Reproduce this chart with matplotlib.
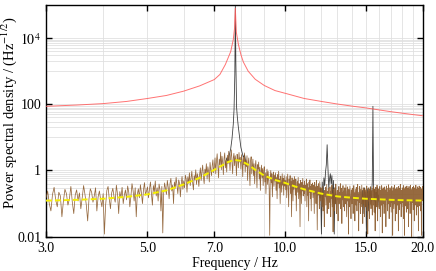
import numpy as np
import matplotlib
matplotlib.use('Agg')
import matplotlib.pyplot as plt
from matplotlib.ticker import FixedLocator, FixedFormatter, NullFormatter

plt.rcParams['font.family'] = 'serif'
plt.rcParams['font.serif'] = ['Liberation Serif', 'DejaVu Serif']
plt.rcParams['mathtext.fontset'] = 'stix'

# smooth resonance curve (red)
red_freq = [3.0, 3.5, 4.0, 4.5, 5.0, 5.5, 6.0, 6.5, 7.0, 7.2, 7.4, 7.5, 7.6, 7.7,
            7.75, 7.78, 7.82, 7.9, 8.0, 8.1, 8.3, 8.6, 9.0, 9.5, 10.0, 11.0, 12.0,
            13.0, 14.0, 15.0, 16.0, 17.0, 18.0, 19.0, 20.0]
red_psd = [87, 95, 105, 122, 150, 185, 250, 360, 560, 800, 1600, 2500, 3900, 9000,
           20000, 80000, 15000, 6500, 3200, 1900, 1000, 570, 370, 260, 215, 150, 122,
           102, 88, 78, 68, 60, 54, 49, 45]

# smooth fit (yellow, dashed)
fit_freq = [3.0, 3.5, 4.0, 4.5, 5.0, 5.5, 6.0, 6.5, 7.0, 7.3, 7.5, 7.75, 8.0, 8.3,
            8.6, 9.0, 9.5, 10.0, 10.5, 11.0, 12.0, 13.0, 14.0, 15.0, 16.0, 17.0,
            18.0, 19.0, 20.0]
fit_psd = [0.123, 0.13, 0.14, 0.16, 0.19, 0.25, 0.38, 0.6, 1.05, 1.45, 1.8, 2.1, 1.95,
           1.5, 1.05, 0.7, 0.52, 0.42, 0.33, 0.27, 0.2, 0.165, 0.15, 0.14, 0.135, 0.13,
           0.127, 0.125, 0.123]

# measured spectrum (brown), one value every 0.025 Hz from 3.000 to 20.000
spec_freq = np.round(np.arange(3.0, 20.0001, 0.025), 3)
spec_psd = [
    # 3.0 - 4.975
    0.15, 0.24, 0.10, 0.06, 0.19, 0.31, 0.13, 0.08, 0.22, 0.17, 0.04, 0.12, 0.27, 0.20, 0.09, 0.14, 0.33, 0.11, 0.05, 0.18,
    0.26, 0.12, 0.21, 0.07, 0.15, 0.35, 0.19, 0.09, 0.03, 0.14, 0.28, 0.22, 0.11, 0.17, 0.30, 0.06, 0.16, 0.24, 0.13, 0.08,
    0.20, 0.012, 0.09, 0.25, 0.33, 0.14, 0.07, 0.21, 0.29, 0.16, 0.11, 0.36, 0.19, 0.05, 0.23, 0.15, 0.31, 0.10, 0.18, 0.26,
    0.13, 0.34, 0.22, 0.08, 0.17, 0.40, 0.25, 0.12, 0.30, 0.04, 0.19, 0.28, 0.15, 0.37, 0.21, 0.10, 0.26, 0.43, 0.18, 0.24,
    # 5.0 - 6.975
    0.32, 0.15, 0.27, 0.45, 0.20, 0.09, 0.35, 0.23, 0.48, 0.17, 0.30, 0.12, 0.39, 0.26, 0.06, 0.33, 0.013, 0.21, 0.42, 0.28,
    0.19, 0.50, 0.31, 0.14, 0.40, 0.58, 0.24, 0.36, 0.10, 0.45, 0.29, 0.62, 0.35, 0.20, 0.52, 0.41, 0.16, 0.38, 0.66, 0.27,
    0.48, 0.30, 0.72, 0.55, 0.22, 0.64, 0.41, 0.85, 0.35, 0.58, 0.95, 0.44, 0.26, 0.70, 0.52, 1.05, 0.38, 0.80, 0.60, 0.33,
    0.75, 1.20, 0.50, 0.92, 1.45, 0.65, 0.40, 1.10, 0.82, 1.60, 0.55, 1.30, 0.95, 0.45, 1.75, 1.05, 0.70, 1.40, 2.10, 0.85,
    # 7.0 - 8.975
    1.25, 2.40, 0.80, 1.90, 3.20, 1.35, 0.60, 2.20, 1.50, 3.60, 1.05, 2.70, 1.80, 0.75, 2.30, 3.40, 1.20, 2.00, 0.90, 2.90,
    1.60, 3.80, 2.20, 1.00, 2.60, 4.20, 1.70, 0.80, 2.40, 3.30, 1.40, 2.80, 1.90, 0.70, 3.10, 2.30, 1.20, 3.50, 1.80, 2.50,
    1.10, 3.00, 2.00, 0.65, 2.50, 1.50, 3.40, 0.90, 2.10, 1.30, 2.80, 0.50, 1.70, 2.40, 1.00, 0.35, 1.90, 2.60, 0.80, 1.40,
    2.20, 0.70, 1.60, 0.40, 1.30, 2.00, 0.95, 0.30, 1.50, 1.10, 1.80, 0.55, 1.25, 0.25, 0.90, 1.45, 0.60, 1.15, 0.35, 1.00,
    # 9.0 - 10.975
    1.30, 0.45, 0.85, 0.20, 0.70, 1.10, 0.38, 0.95, 0.55, 0.28, 0.011, 0.65, 1.00, 0.42, 0.80, 0.16, 0.60, 0.90, 0.33, 0.72,
    0.48, 0.85, 0.25, 0.62, 0.14, 0.75, 0.40, 0.95, 0.30, 0.55, 0.10, 0.68, 0.44, 0.22, 0.80, 0.36, 0.58, 0.18, 0.70, 0.34,
    0.50, 0.26, 0.65, 0.15, 0.42, 0.78, 0.30, 0.08, 0.55, 0.36, 0.70, 0.20, 0.46, 0.04, 0.60, 0.32, 0.12, 0.52, 0.27, 0.66,
    0.38, 0.18, 0.55, 0.06, 0.30, 0.46, 0.22, 0.62, 0.14, 0.40, 0.27, 0.02, 0.50, 0.33, 0.10, 0.44, 0.24, 0.58, 0.17, 0.36,
    # 11.0 - 12.975
    0.20, 0.48, 0.12, 0.35, 0.26, 0.55, 0.08, 0.40, 0.18, 0.30, 0.03, 0.45, 0.22, 0.52, 0.14, 0.33, 0.06, 0.38, 0.25, 0.42,
    0.15, 0.36, 0.28, 0.05, 0.44, 0.20, 0.32, 0.10, 0.50, 0.24, 0.016, 0.34, 0.18, 0.40, 0.27, 0.07, 0.46, 0.22, 0.12, 0.30,
    0.26, 0.08, 0.18, 0.33, 0.06, 0.21, 0.13, 0.02, 0.25, 0.16, 0.31, 0.09, 0.19, 0.38, 0.05, 0.23, 0.14, 0.29, 0.07, 0.18,
    0.11, 0.32, 0.17, 0.04, 0.24, 0.14, 0.36, 0.08, 0.20, 0.014, 0.27, 0.15, 0.06, 0.30, 0.18, 0.10, 0.39, 0.22, 0.05, 0.16,
    # 13.0 - 14.975
    0.25, 0.12, 0.03, 0.19, 0.33, 0.10, 0.22, 0.15, 0.40, 0.07, 0.18, 0.29, 0.025, 0.21, 0.13, 0.35, 0.08, 0.24, 0.16, 0.06,
    0.30, 0.19, 0.10, 0.37, 0.14, 0.04, 0.23, 0.32, 0.12, 0.20, 0.012, 0.27, 0.16, 0.08, 0.34, 0.21, 0.13, 0.035, 0.26, 0.18,
    0.10, 0.29, 0.17, 0.05, 0.23, 0.35, 0.13, 0.21, 0.03, 0.27, 0.15, 0.09, 0.31, 0.19, 0.06, 0.25, 0.38, 0.12, 0.19, 0.015,
    0.22, 0.11, 0.33, 0.17, 0.05, 0.27, 0.14, 0.08, 0.36, 0.20, 0.12, 0.025, 0.24, 0.30, 0.10, 0.18, 0.04, 0.28, 0.16, 0.23,
    # 15.0 - 16.975
    0.08, 0.26, 0.14, 0.34, 0.06, 0.20, 0.012, 0.24, 0.12, 0.30, 0.17, 0.035, 0.27, 0.10, 0.21, 0.32, 0.07, 0.19, 0.15, 0.25,
    0.045, 0.29, 0.17, 0.09, 0.33, 0.22, 0.055, 0.27, 0.13, 0.015, 0.20, 0.31, 0.11, 0.24, 0.08, 0.36, 0.16, 0.03, 0.23, 0.18,
    0.12, 0.28, 0.07, 0.20, 0.33, 0.15, 0.04, 0.25, 0.18, 0.09, 0.35, 0.21, 0.013, 0.27, 0.14, 0.30, 0.10, 0.19, 0.05, 0.24,
    0.32, 0.16, 0.08, 0.26, 0.02, 0.21, 0.34, 0.13, 0.22, 0.06, 0.29, 0.17, 0.10, 0.37, 0.19, 0.035, 0.24, 0.14, 0.30, 0.08,
    # 17.0 - 18.975
    0.20, 0.27, 0.055, 0.16, 0.33, 0.11, 0.24, 0.011, 0.19, 0.30, 0.14, 0.07, 0.26, 0.36, 0.10, 0.22, 0.03, 0.18, 0.28, 0.13,
    0.23, 0.05, 0.31, 0.15, 0.09, 0.27, 0.19, 0.015, 0.33, 0.12, 0.22, 0.065, 0.29, 0.17, 0.38, 0.10, 0.20, 0.04, 0.25, 0.14,
    0.08, 0.30, 0.19, 0.11, 0.25, 0.035, 0.35, 0.16, 0.22, 0.011, 0.28, 0.13, 0.32, 0.085, 0.21, 0.26, 0.055, 0.18, 0.34, 0.13,
    0.24, 0.07, 0.29, 0.17, 0.02, 0.22, 0.33, 0.12, 0.19, 0.27, 0.05, 0.36, 0.15, 0.10, 0.25, 0.20, 0.01, 0.28, 0.17, 0.31,
    # 19.0 - 20.0
    0.11, 0.23, 0.065, 0.34, 0.16, 0.26, 0.03, 0.20, 0.30, 0.09, 0.24, 0.14, 0.36, 0.18, 0.045, 0.27, 0.11, 0.21, 0.32, 0.08,
    0.25, 0.14, 0.015, 0.29, 0.19, 0.34, 0.085, 0.22, 0.13, 0.27, 0.06, 0.31, 0.17, 0.23, 0.011, 0.20, 0.28, 0.12, 0.33, 0.15,
    0.19]

# second spectrum (black), only where it shows above the brown one
peak_freq = [7.40, 7.45, 7.50, 7.55, 7.60, 7.65, 7.70, 7.73, 7.76, 7.78, 7.80, 7.83,
             7.86, 7.90, 7.95, 8.00, 8.05, 8.10, 8.15, 8.20]
peak_psd = [1.5, 2.4, 1.8, 3.0, 4.5, 9.0, 25, 70, 800, 100000, 2000, 80, 40, 20, 10,
            5.0, 3.5, 2.5, 3.0, 1.8]
line1_freq = [11.90, 11.95, 12.00, 12.05, 12.10, 12.15, 12.20, 12.25, 12.30, 12.35, 12.40,
              12.45, 12.50, 12.55, 12.60, 12.65, 12.70, 12.75, 12.80, 12.85, 12.90]
line1_psd = [0.15, 0.30, 0.012, 0.45, 0.08, 0.60, 0.35, 0.90, 1.5, 6.0, 1.2, 0.30, 0.55,
             0.80, 0.40, 0.70, 0.10, 0.50, 0.012, 0.30, 0.10]
line2_freq = [14.70, 14.75, 14.80, 14.85, 14.90, 14.95, 15.00, 15.05, 15.10, 15.15, 15.20,
              15.25, 15.30, 15.35, 15.40, 15.45, 15.50, 15.55, 15.60, 15.65, 15.70, 15.75,
              15.80, 15.85, 15.90, 15.95, 16.00]
line2_psd = [0.10, 0.25, 0.05, 0.20, 0.30, 0.08, 0.22, 0.012, 0.18, 0.28, 0.06, 0.24, 0.15,
             0.32, 0.09, 0.20, 0.45, 87, 0.35, 0.12, 0.27, 0.05, 0.22, 0.14, 0.30, 0.08, 0.18]

x_ticks = [3.0, 5.0, 7.0, 10.0, 15.0, 20.0]
y_ticks = [0.01, 1, 100, 1e4]
y_labels = ['0.01', '1', '100', r'$10^4$']

n = min(len(spec_freq), len(spec_psd))

fig = plt.figure(figsize=(4.36, 2.71), dpi=100)
ax = fig.add_axes([0.1055, 0.1266, 0.8645, 0.8549])

for fr, ps in [(peak_freq, peak_psd), (line1_freq, line1_psd), (line2_freq, line2_psd)]:
    ax.plot(fr, ps, color='#202020', lw=0.6, alpha=0.85, zorder=2)
ax.plot(spec_freq[:n], spec_psd[:n], color='#8b5a2b', lw=0.55, alpha=0.9, zorder=3)
ax.plot(fit_freq, fit_psd, color='#f5f000', lw=1.4, ls=(0, (3, 1.6)), zorder=4)
ax.plot(red_freq, red_psd, color='#ff5a5a', lw=0.7, alpha=0.85, zorder=5)

ax.set_xscale('log')
ax.set_yscale('log')
ax.set_xlim(3, 20)
ax.set_ylim(0.01, 1e5)

ax.xaxis.set_major_locator(FixedLocator(x_ticks))
ax.xaxis.set_major_formatter(FixedFormatter(['%.1f' % t for t in x_ticks]))
ax.xaxis.set_minor_locator(FixedLocator([f for f in range(3, 21) if f not in x_ticks]))
ax.xaxis.set_minor_formatter(NullFormatter())

ax.yaxis.set_major_locator(FixedLocator(y_ticks))
ax.yaxis.set_major_formatter(FixedFormatter(y_labels))
y_minor = [k * 10.0 ** d for d in (-1, 1, 3) for k in range(1, 10)]
ax.yaxis.set_minor_locator(FixedLocator(y_minor))
ax.yaxis.set_minor_formatter(NullFormatter())

ax.grid(True, which='both', color='#e0e0e0', lw=0.6, zorder=0)
ax.set_axisbelow(True)
ax.tick_params(which='both', direction='in', top=True, right=True, labelsize=10)
ax.tick_params(which='major', length=4, width=1)
ax.tick_params(which='minor', length=0)
for s in ax.spines.values():
    s.set_linewidth(1.0)

ax.set_xlabel('Frequency / Hz', fontsize=10, labelpad=2)
ax.set_ylabel(r'Power spectral density / (Hz$^{-1/2}$)', fontsize=10.5)
ax.yaxis.set_label_coords(-0.072, 0.535)

fig.savefig('out.png', dpi=100)
